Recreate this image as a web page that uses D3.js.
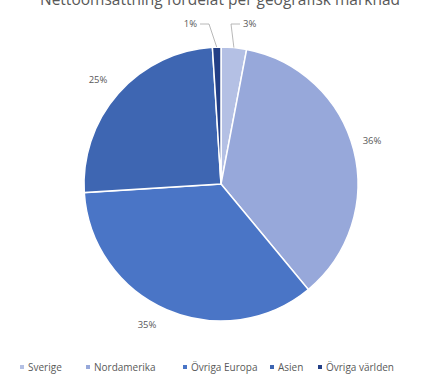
<!DOCTYPE html>
<html>
<head>
<meta charset="utf-8">
<script src="https://cdn.jsdelivr.net/npm/d3@7"></script>
<style>
  html, body { margin: 0; padding: 0; background: #fff; }
  svg { display: block; font-family: "Open Sans", "Liberation Sans", sans-serif; }
</style>
</head>
<body>
<svg id="chart" width="434" height="379"></svg>
<script>
// ── Data ──────────────────────────────────────────────────────────────────────
const title      = "Nettoomsättning fördelat per geografisk marknad";
const categories = ["Sverige", "Nordamerika", "Övriga Europa", "Asien", "Övriga världen"];
const values     = [3, 36, 35, 25, 1];
const colors     = ["#b4c0e4", "#97a8da", "#4a75c6", "#3e66b2", "#233f86"];

// ── Chart ─────────────────────────────────────────────────────────────────────
const svg = d3.select("#chart");
const W = 434, H = 379;
const cx = 221, cy = 184, R = 137;

svg.append("text")
  .attr("x", W / 2 + 3).attr("y", 5)
  .attr("text-anchor", "middle")
  .attr("font-size", 15.5)
  .attr("fill", "#595959")
  .text(title);

const data = categories.map((c, i) => ({ name: c, value: values[i], color: colors[i] }));

const pie = d3.pie().value(d => d.value).sort(null);
const arcs = pie(data);
const arc = d3.arc().innerRadius(0).outerRadius(R);

const g = svg.append("g").attr("transform", `translate(${cx},${cy})`);

g.selectAll("path.slice")
  .data(arcs)
  .join("path")
  .attr("class", "slice")
  .attr("d", arc)
  .attr("fill", d => d.data.color)
  .attr("stroke", "#fff")
  .attr("stroke-width", 1.5);

// label positions (relative to pie centre), leader lines for the small slices
const labelPos = {
  "Sverige":        { x: 22,   y: -157, anchor: "start",  leader: true },
  "Nordamerika":    { x: 151,  y: -40,  anchor: "middle", leader: false },
  "Övriga Europa":  { x: -74,  y: 144,  anchor: "middle", leader: false },
  "Asien":          { x: -123, y: -101, anchor: "middle", leader: false },
  "Övriga världen": { x: -24,  y: -157, anchor: "end",    leader: true }
};

arcs.forEach(a => {
  const p = labelPos[a.data.name];
  if (p.leader) {
    const mid = (a.startAngle + a.endAngle) / 2;
    const ex = Math.sin(mid) * R, ey = -Math.cos(mid) * R;
    const side = p.anchor === "start" ? -1 : 1;
    const lx = p.x + side * 3;
    const kx = lx + side * 9;
    g.append("polyline")
      .attr("points", `${ex},${ey} ${kx},${p.y - 3} ${lx},${p.y - 3}`)
      .attr("fill", "none")
      .attr("stroke", "#a6a6a6")
      .attr("stroke-width", 0.8);
  }
  g.append("text")
    .attr("x", p.x).attr("y", p.y)
    .attr("text-anchor", p.anchor)
    .attr("font-size", 9.5)
    .attr("fill", "#595959")
    .text(a.data.value + "%");
});

// ── Legend ────────────────────────────────────────────────────────────────────
const legendX = [22, 88, 185, 272, 320];
const legend = svg.append("g").attr("transform", "translate(0,367)");
data.forEach((d, i) => {
  legend.append("rect")
    .attr("x", legendX[i] - 2).attr("y", -2)
    .attr("width", 4).attr("height", 4)
    .attr("fill", d.color);
  legend.append("text")
    .attr("x", legendX[i] + 6).attr("y", 3.5)
    .attr("font-size", 10)
    .attr("fill", "#595959")
    .text(d.name);
});
</script>
</body>
</html>
